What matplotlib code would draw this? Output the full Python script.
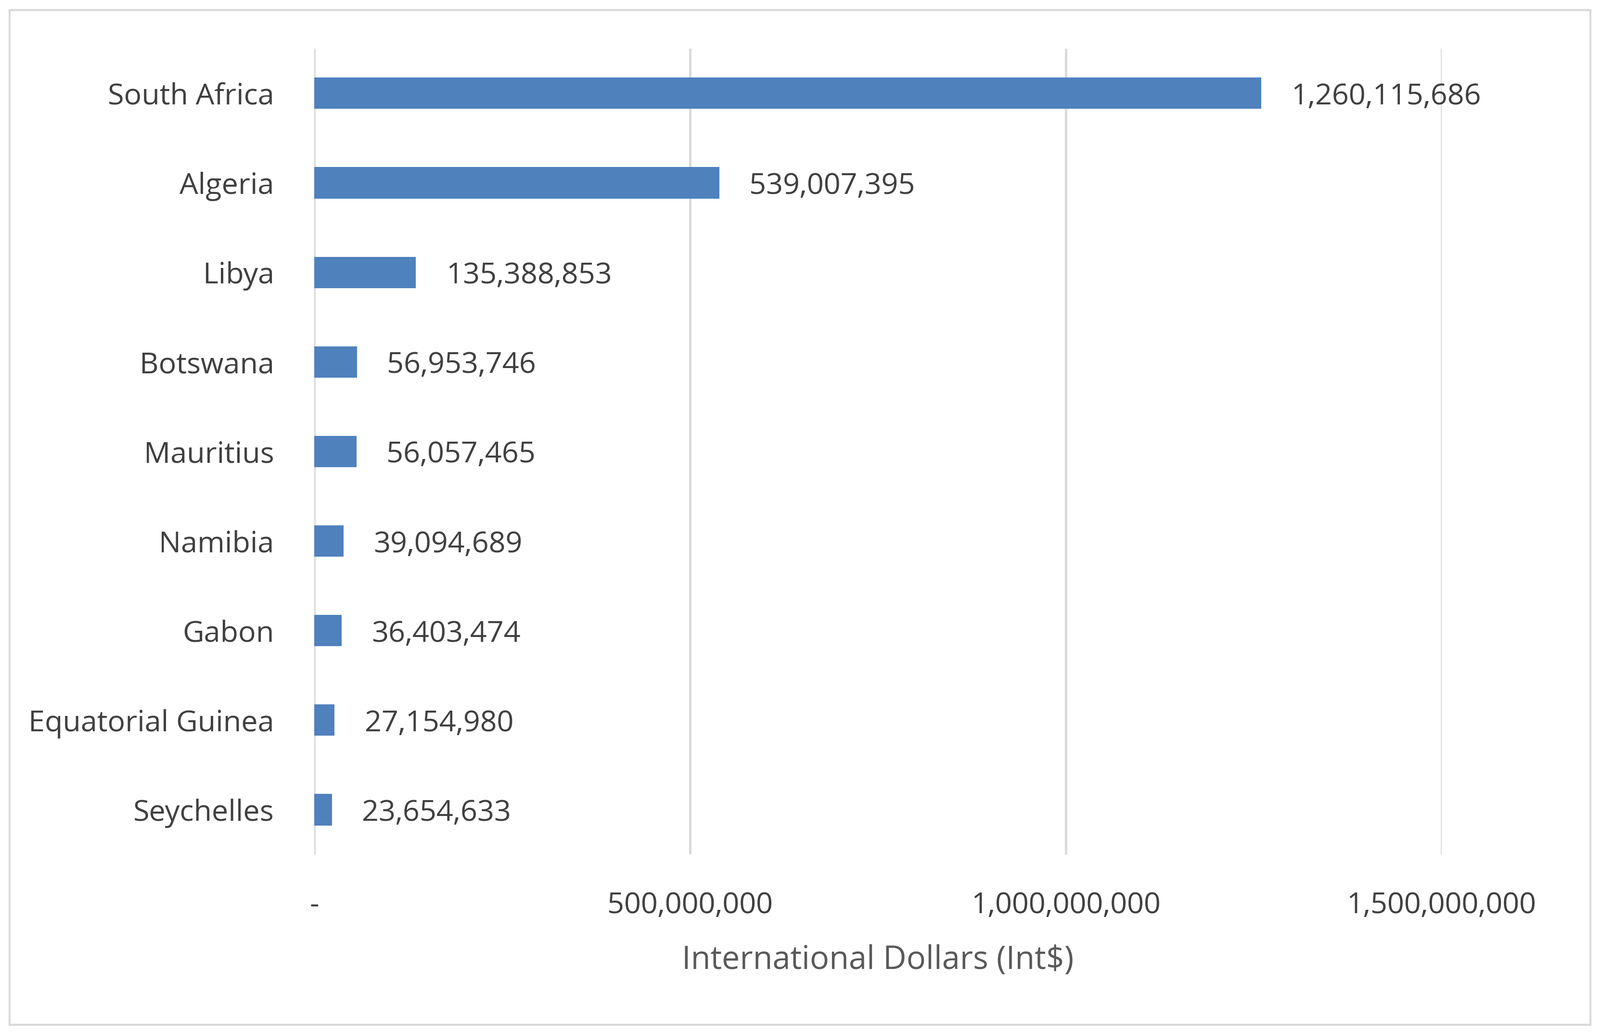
import matplotlib
matplotlib.use("Agg")
import matplotlib.pyplot as plt
from matplotlib.patches import Rectangle

countries = ["South Africa","Algeria","Libya","Botswana","Mauritius","Namibia","Gabon","Equatorial Guinea","Seychelles"]
values = [1260115686,539007395,135388853,56953746,56057465,39094689,36403474,27154980,23654633]
xticks = [0,500000000,1000000000,1500000000]
xticklabels = ["-","500,000,000","1,000,000,000","1,500,000,000"]

plt.rcParams["font.family"] = "Open Sans"
fig = plt.figure(figsize=(33.25,21.45), dpi=100)
fig.patches.append(Rectangle((0.006,0.007),0.988,0.983,transform=fig.transFigure,fill=False,edgecolor="#D9D9D9",linewidth=3))
ax = fig.add_axes([0.1964,0.172,0.7046,0.781])
y = list(range(len(countries)))
ax.barh(y, values, height=0.35, color="#4F81BD", zorder=3)
for yi, v in zip(y, values):
    ax.text(v+40000000, yi+0.04, f"{v:,}", va="center", ha="left", fontsize=44, color="#404040")
ax.set_ylim(len(countries)-0.5,-0.5)
ax.set_xlim(0,1500000000)
ax.set_yticks(y)
ax.set_yticklabels(countries, fontsize=44, color="#404040")
ax.set_xticks(xticks)
ax.set_xticklabels(xticklabels, fontsize=44, color="#404040")
ax.grid(axis="x", color="#D9D9D9", linewidth=3.5, zorder=0)
ax.tick_params(axis="y", length=0, pad=60)
ax.tick_params(axis="x", length=0, pad=55)
for s in ax.spines.values():
    s.set_visible(False)
ax.set_xlabel("International Dollars (Int$)", fontsize=48, color="#595959", labelpad=35)
fig.savefig("out.png", dpi=100)
